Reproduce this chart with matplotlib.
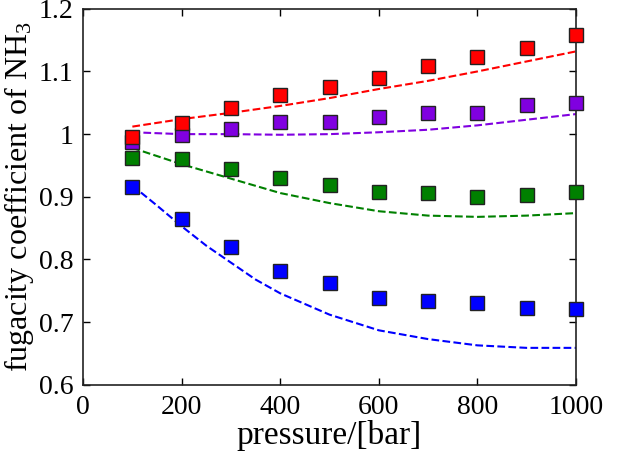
import matplotlib
matplotlib.use("Agg")
import matplotlib.pyplot as plt

plt.rcParams['font.family'] = 'Liberation Serif'
plt.rcParams['mathtext.fontset'] = 'custom'
plt.rcParams['mathtext.rm'] = 'Liberation Serif'
plt.rcParams['mathtext.it'] = 'Liberation Serif:italic'

# measured points
p_exp = [100, 200, 300, 400, 500, 600, 700, 800, 900, 1000]
phi_red = [0.996, 1.018, 1.042, 1.063, 1.075, 1.090, 1.108, 1.123, 1.138, 1.158]
phi_purple = [0.988, 0.999, 1.008, 1.019, 1.019, 1.027, 1.034, 1.034, 1.046, 1.050]
phi_green = [0.962, 0.961, 0.944, 0.930, 0.919, 0.908, 0.906, 0.899, 0.903, 0.907]
phi_blue = [0.916, 0.865, 0.820, 0.782, 0.762, 0.738, 0.733, 0.730, 0.722, 0.721]

# model curves (dashed)
p_mod = [100, 200, 300, 400, 500, 600, 700, 800, 900, 1000]
mod_red = [1.012, 1.024, 1.034, 1.045, 1.0575, 1.072, 1.085, 1.100, 1.116, 1.132]
mod_purple = [1.003, 1.000, 1.000, 0.999, 1.000, 1.003, 1.007, 1.014, 1.023, 1.032]
mod_green = [0.978, 0.952, 0.929, 0.906, 0.890, 0.877, 0.870, 0.868, 0.870, 0.874]
p_mod_blue = [100, 150, 200, 250, 300, 350, 400, 450, 500, 600, 700, 800, 900, 1000]
mod_blue = [0.918, 0.886, 0.853, 0.822, 0.795, 0.768, 0.746, 0.729, 0.712,
            0.687, 0.673, 0.663, 0.659, 0.659]

c_red = '#ff0000'
c_purple = '#8000e0'
c_green = '#008000'
c_blue = '#0000ff'

fig = plt.figure(figsize=(6.2, 4.62), dpi=100)
ax = fig.add_axes([0.134, 0.167, 0.795, 0.814])

ax.plot(p_mod_blue, mod_blue, '--', color=c_blue, lw=1.5, zorder=2)
ax.plot(p_mod, mod_green, '--', color=c_green, lw=1.5, zorder=2)
ax.plot(p_mod, mod_purple, '--', color=c_purple, lw=1.5, zorder=2)
ax.plot(p_mod, mod_red, '--', color=c_red, lw=1.5, zorder=2)

for y, c in [(phi_blue, c_blue), (phi_green, c_green), (phi_purple, c_purple), (phi_red, c_red)]:
    ax.plot(p_exp, y, 's', color=c, markersize=10.5, markeredgecolor='#222222',
            markeredgewidth=1.0, linestyle='none', zorder=3, clip_on=False)

ax.set_xlim(0, 1000)
ax.set_ylim(0.6, 1.2)
ax.set_xticks([0, 200, 400, 600, 800, 1000])
ax.set_yticks([0.6, 0.7, 0.8, 0.9, 1.0, 1.1, 1.2])
ax.set_yticklabels(['0.6', '0.7', '0.8', '0.9', '1', '1.1', '1.2'])
ax.tick_params(direction='in', top=True, right=True, labelsize=20, length=5, width=1.0)
ax.tick_params(axis='x', pad=7.5)
ax.tick_params(axis='y', pad=7)
for s in ax.spines.values():
    s.set_linewidth(1.2)
    s.set_color('#222222')

ax.set_xlabel('pressure/[bar]', fontsize=24, labelpad=0)
ax.set_ylabel('fugacity coefficient of NH$_3$', fontsize=23, labelpad=2)

fig.savefig('out.png', dpi=100)
